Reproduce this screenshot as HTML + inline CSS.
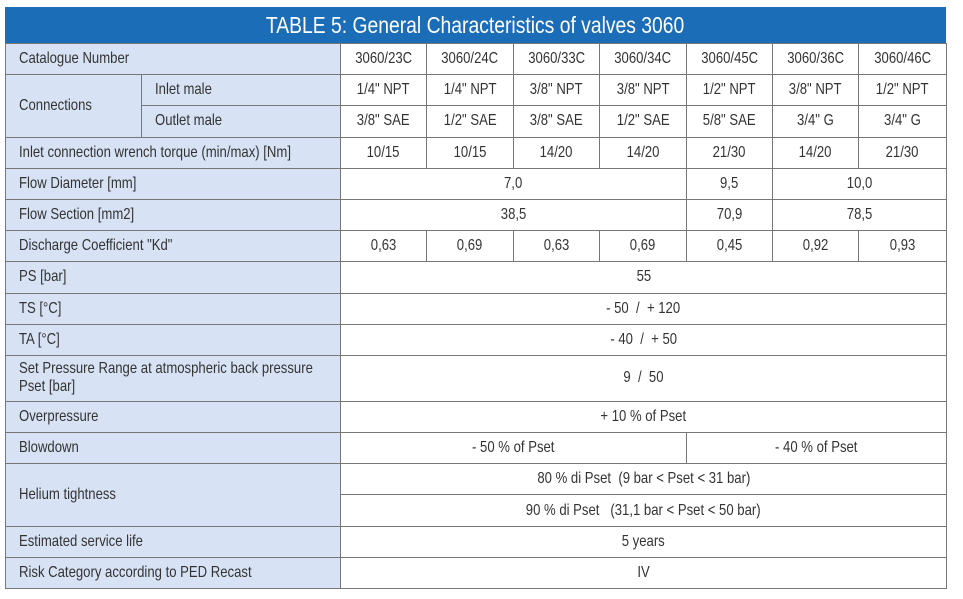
<!DOCTYPE html>
<html><head><meta charset="utf-8"><style>
html,body{margin:0;padding:0;background:#fff;width:963px;height:599px;overflow:hidden}
.wrap{position:absolute;left:5px;top:7px;width:941px}
.title{height:36px;background:#1b6db8;color:#fff;font:23px "Liberation Sans",sans-serif;text-align:center;line-height:37px}
.title span{display:inline-block;transform:scaleX(.84)}
table{border-collapse:collapse;table-layout:fixed;width:941px;font:16px "Liberation Sans",sans-serif;color:#333}
td{border:1.5px solid #777;height:30.2px;padding:0;text-align:center;white-space:nowrap;overflow:visible}
td span{display:inline-block;transform:scaleX(.82);transform-origin:center}
td.l{background:#d7e3f4;text-align:left;padding-left:13px}
td.l span{transform-origin:left center}
td.tall{height:45px;line-height:18px}
</style></head><body>
<div class="wrap">
<div class="title"><span>TABLE 5: General Characteristics of valves 3060</span></div>
<table>
<colgroup><col style="width:136px"><col style="width:199px"><col style="width:86px"><col style="width:87px"><col style="width:86px"><col style="width:87px"><col style="width:86px"><col style="width:86px"><col style="width:88px"></colgroup>
<tr><td class="l" colspan="2"><span>Catalogue Number</span></td><td><span>3060/23C</span></td><td><span>3060/24C</span></td><td><span>3060/33C</span></td><td><span>3060/34C</span></td><td><span>3060/45C</span></td><td><span>3060/36C</span></td><td><span>3060/46C</span></td></tr>
<tr><td class="l" rowspan="2"><span>Connections</span></td><td class="l"><span>Inlet male</span></td><td><span>1/4" NPT</span></td><td><span>1/4" NPT</span></td><td><span>3/8" NPT</span></td><td><span>3/8" NPT</span></td><td><span>1/2" NPT</span></td><td><span>3/8" NPT</span></td><td><span>1/2" NPT</span></td></tr>
<tr><td class="l"><span>Outlet male</span></td><td><span>3/8" SAE</span></td><td><span>1/2" SAE</span></td><td><span>3/8" SAE</span></td><td><span>1/2" SAE</span></td><td><span>5/8" SAE</span></td><td><span>3/4" G</span></td><td><span>3/4" G</span></td></tr>
<tr><td class="l" colspan="2"><span>Inlet connection wrench torque (min/max) [Nm]</span></td><td><span>10/15</span></td><td><span>10/15</span></td><td><span>14/20</span></td><td><span>14/20</span></td><td><span>21/30</span></td><td><span>14/20</span></td><td><span>21/30</span></td></tr>
<tr><td class="l" colspan="2"><span>Flow Diameter [mm]</span></td><td colspan="4"><span>7,0</span></td><td><span>9,5</span></td><td colspan="2"><span>10,0</span></td></tr>
<tr><td class="l" colspan="2"><span>Flow Section [mm2]</span></td><td colspan="4"><span>38,5</span></td><td><span>70,9</span></td><td colspan="2"><span>78,5</span></td></tr>
<tr><td class="l" colspan="2"><span>Discharge Coefficient "Kd"</span></td><td><span>0,63</span></td><td><span>0,69</span></td><td><span>0,63</span></td><td><span>0,69</span></td><td><span>0,45</span></td><td><span>0,92</span></td><td><span>0,93</span></td></tr>
<tr><td class="l" colspan="2"><span>PS [bar]</span></td><td colspan="7"><span>55</span></td></tr>
<tr><td class="l" colspan="2"><span>TS [°C]</span></td><td colspan="7"><span>- 50 &nbsp;/ &nbsp;+ 120</span></td></tr>
<tr><td class="l" colspan="2"><span>TA [°C]</span></td><td colspan="7"><span>- 40 &nbsp;/ &nbsp;+ 50</span></td></tr>
<tr><td class="l tall" colspan="2"><span>Set Pressure Range at atmospheric back pressure<br>Pset [bar]</span></td><td colspan="7"><span>9 &nbsp;/ &nbsp;50</span></td></tr>
<tr><td class="l" colspan="2"><span>Overpressure</span></td><td colspan="7"><span>+ 10 % of Pset</span></td></tr>
<tr><td class="l" colspan="2"><span>Blowdown</span></td><td colspan="4"><span>- 50 % of Pset</span></td><td colspan="3"><span>- 40 % of Pset</span></td></tr>
<tr><td class="l" colspan="2" rowspan="2"><span>Helium tightness</span></td><td colspan="7"><span>80 % di Pset &nbsp;(9 bar &lt; Pset &lt; 31 bar)</span></td></tr>
<tr><td colspan="7"><span>90 % di Pset &nbsp;&nbsp;(31,1 bar &lt; Pset &lt; 50 bar)</span></td></tr>
<tr><td class="l" colspan="2"><span>Estimated service life</span></td><td colspan="7"><span>5 years</span></td></tr>
<tr><td class="l" colspan="2"><span>Risk Category according to PED Recast</span></td><td colspan="7"><span>IV</span></td></tr>
</table>
</div>
</body></html>
